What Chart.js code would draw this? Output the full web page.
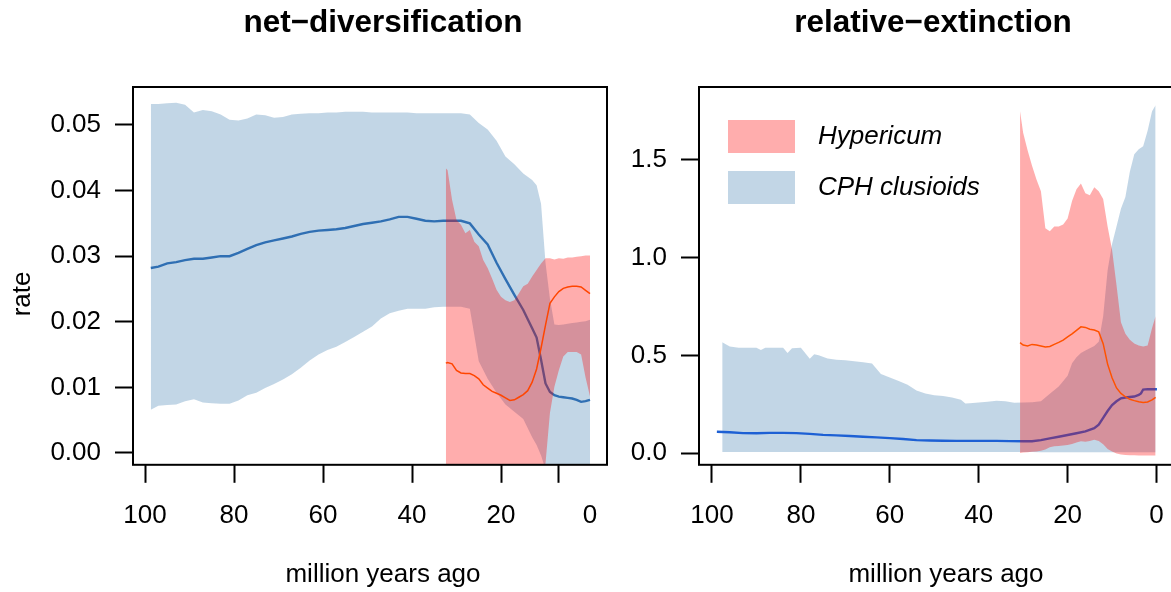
<!DOCTYPE html>
<html>
<head>
<meta charset="utf-8">
<title>Diversification rates through time</title>
<script src="https://cdn.jsdelivr.net/npm/chart.js"></script>
<style>
	html, body { margin: 0; padding: 0; background: #fff; overflow: hidden; }
	#wrap { position: relative; width: 1171px; height: 592px; overflow: hidden; background: #fff; }
	#wrap canvas { position: absolute; top: 0; }
</style>
</head>
<body>
<div id="wrap">
	<canvas id="netChart" width="766" height="592" style="left:0"></canvas>
	<canvas id="extChart" width="626" height="592" style="left:620px"></canvas>
</div>
<script>
// ---- net-diversification panel ----
const netCphTime = [98.7, 97, 95, 93, 91, 89, 87, 85, 83, 81, 79, 77, 75, 73, 71, 69, 67, 65, 63, 61,
	59, 57, 55, 53, 51, 49, 47, 45, 43, 41, 39, 37, 35, 33, 31, 29, 27, 25, 23, 21,
	19, 17, 15, 13, 12, 11, 10, 9, 8, 7, 6, 5, 4, 3, 2, 1, 0];
const netCphHigh = [0.0532, 0.0532, 0.0533, 0.0534, 0.0531, 0.0519, 0.0523, 0.0521, 0.0516, 0.0508,
	0.0507, 0.0510, 0.0516, 0.0515, 0.0511, 0.0512, 0.0516, 0.0517, 0.0518, 0.0518,
	0.0519, 0.0519, 0.0520, 0.0520, 0.0520, 0.0519, 0.0519, 0.0519, 0.0519, 0.0519,
	0.0518, 0.0518, 0.0518, 0.0518, 0.0518, 0.0518, 0.0516, 0.0503, 0.0493, 0.0476,
	0.0452, 0.0440, 0.0426, 0.0416, 0.0408, 0.0380, 0.0290, 0.0235, 0.0196, 0.0195,
	0.0196, 0.0197, 0.0198, 0.0199, 0.0200, 0.0201, 0.0203];
const netCphLow = [0.0066, 0.0072, 0.0073, 0.0074, 0.0079, 0.0082, 0.0077, 0.0076, 0.0075, 0.0075,
	0.0080, 0.0088, 0.0092, 0.0099, 0.0105, 0.0112, 0.0120, 0.0130, 0.0141, 0.0150,
	0.0157, 0.0162, 0.0169, 0.0177, 0.0185, 0.0193, 0.0205, 0.0213, 0.0217, 0.0220,
	0.0220, 0.0220, 0.0222, 0.0223, 0.0223, 0.0223, 0.0220, 0.0140, 0.0113, 0.0092,
	0.0074, 0.0063, 0.0052, 0.0024, 0.0012, -0.0004, -0.0025, -0.003, -0.003, -0.003,
	-0.003, -0.003, -0.003, -0.003, -0.003, -0.003, -0.003];
const netCphMean = [0.0282, 0.0284, 0.0289, 0.0291, 0.0294, 0.0296, 0.0296, 0.0298, 0.0300, 0.0300,
	0.0305, 0.0311, 0.0317, 0.0321, 0.0324, 0.0327, 0.0330, 0.0334, 0.0337, 0.0339,
	0.0340, 0.0341, 0.0343, 0.0346, 0.0349, 0.0351, 0.0353, 0.0356, 0.0360, 0.0360,
	0.0357, 0.0354, 0.0353, 0.0354, 0.0354, 0.0354, 0.0350, 0.0333, 0.0318, 0.0290,
	0.0265, 0.0241, 0.0218, 0.0190, 0.0176, 0.0142, 0.0106, 0.0093, 0.0088, 0.0086,
	0.0085, 0.0084, 0.0083, 0.0081, 0.0078, 0.0079, 0.0081];

const netHypTime = [32.4, 32, 31, 30, 29, 28, 27, 26, 25, 24, 23, 22, 21, 20, 19, 18, 17,
	16, 15, 14, 13, 12, 11, 10, 9, 8, 7, 6, 5, 4, 3, 2, 1, 0];
const netHypHigh = [0.0434, 0.0431, 0.0386, 0.0355, 0.0348, 0.0335, 0.0340, 0.0322, 0.0315, 0.0294,
	0.0282, 0.0266, 0.0249, 0.0238, 0.0233, 0.0230, 0.0233, 0.0243, 0.0254, 0.0258,
	0.0269, 0.0279, 0.0289, 0.0297, 0.0297, 0.0295, 0.0297, 0.0296, 0.0298, 0.0298,
	0.0299, 0.0300, 0.0301, 0.0301];
const netHypLow = [-0.003, -0.003, -0.003, -0.003, -0.003, -0.003, -0.003, -0.003, -0.003, -0.003,
	-0.003, -0.003, -0.003, -0.003, -0.003, -0.003, -0.003, -0.003, -0.003, -0.003,
	-0.003, -0.003, -0.003, -0.0016, 0.0061, 0.0101, 0.0126, 0.0147, 0.0154, 0.0154,
	0.0154, 0.0150, 0.0115, 0.0086];
const netHypMean = [0.0137, 0.0138, 0.0136, 0.0126, 0.0122, 0.0121, 0.0121, 0.0118, 0.0113, 0.0104,
	0.0099, 0.0094, 0.0091, 0.0088, 0.0084, 0.0080, 0.0081, 0.0085, 0.0089, 0.0095,
	0.0108, 0.0128, 0.0160, 0.0195, 0.0228, 0.0238, 0.0246, 0.0251, 0.0253, 0.0254,
	0.0254, 0.0253, 0.0248, 0.0243];

// ---- relative-extinction panel ----
const extCphTime = [97.7, 96, 94, 92, 90, 89, 88, 86, 84, 83, 82, 80, 78, 77, 76, 74, 72, 70, 68, 66,
	64, 62, 60, 58, 56, 54, 52, 50, 48, 46, 44, 43, 42, 40, 38, 36, 34, 32, 30, 28,
	26, 24, 22, 20, 19, 18, 17, 16, 15, 14, 13, 12, 11, 10, 9, 8, 7, 6, 5, 4, 3, 2, 1, 0.2];
const extCphHigh = [0.567, 0.545, 0.539, 0.539, 0.539, 0.527, 0.539, 0.539, 0.539, 0.512,
	0.536, 0.539, 0.482, 0.505, 0.500, 0.484, 0.477, 0.475, 0.470, 0.464,
	0.458, 0.405, 0.386, 0.368, 0.350, 0.320, 0.305, 0.296, 0.292, 0.284,
	0.272, 0.254, 0.255, 0.258, 0.262, 0.268, 0.265, 0.257, 0.258, 0.260,
	0.265, 0.303, 0.340, 0.395, 0.459, 0.490, 0.512, 0.525, 0.536, 0.548,
	0.570, 0.700, 0.935, 1.070, 1.160, 1.250, 1.310, 1.440, 1.530, 1.555,
	1.570, 1.650, 1.750, 1.780];
const extCphLow = [0.005, 0.005, 0.005, 0.005, 0.005, 0.005, 0.005, 0.005, 0.005, 0.005,
	0.005, 0.005, 0.005, 0.005, 0.005, 0.005, 0.005, 0.005, 0.005, 0.005,
	0.005, 0.005, 0.005, 0.005, 0.005, 0.005, 0.005, 0.005, 0.005, 0.005,
	0.005, 0.005, 0.005, 0.005, 0.005, 0.005, 0.005, 0.005, 0.005, 0.005,
	0.004, 0.004, 0.004, 0.004, 0.004, 0.004, 0.004, 0.004, 0.004, 0.004,
	0.004, 0.004, 0.004, 0.004, 0.004, 0.004, 0.004, 0.004, 0.004, 0.004,
	0.004, 0.004, 0.004, 0.004];
const extCphMeanTime = [98.9, 96, 93, 90, 87, 84, 81, 78, 75, 72, 69, 66, 63, 60, 57, 54, 51, 48, 45, 42,
	39, 36, 33, 30, 28, 26, 24, 22, 20, 18, 16, 14, 13, 12, 11, 10, 9, 8, 7, 6,
	5, 4, 3.5, 3, 2, 1, -0.1];
const extCphMean = [0.109, 0.106, 0.102, 0.101, 0.103, 0.103, 0.102, 0.098, 0.093, 0.090,
	0.087, 0.083, 0.080, 0.076, 0.072, 0.066, 0.064, 0.063, 0.062, 0.062,
	0.062, 0.062, 0.061, 0.060, 0.060, 0.066, 0.075, 0.083, 0.092, 0.101,
	0.111, 0.127, 0.145, 0.180, 0.215, 0.245, 0.265, 0.280, 0.284, 0.287,
	0.289, 0.297, 0.305, 0.325, 0.327, 0.326, 0.326];

const extHypTime = [30.7, 30, 29, 28, 27, 26, 25, 24, 23, 22, 21, 20, 19, 18, 17, 16,
	15, 14, 13, 12, 11, 10, 9, 8, 7, 6, 5, 4, 3, 2, 1, 0.2];
const extHypHigh = [1.75, 1.64, 1.55, 1.47, 1.40, 1.34, 1.15, 1.135, 1.16, 1.16,
	1.17, 1.20, 1.29, 1.35, 1.38, 1.33, 1.32, 1.36, 1.34, 1.30,
	1.16, 1.04, 0.86, 0.67, 0.61, 0.58, 0.56, 0.55, 0.545, 0.55,
	0.64, 0.70];
const extHypLow = [0.000, 0.002, 0.004, 0.006, 0.008, 0.012, 0.018, 0.030, 0.034, 0.036,
	0.039, 0.041, 0.046, 0.054, 0.060, 0.058, 0.062, 0.068, 0.062, 0.045,
	0.020, 0.008, -0.002, -0.008, -0.010, -0.012, -0.012, -0.013, -0.013, -0.013,
	-0.013, -0.013];
const extHypMean = [0.565, 0.553, 0.548, 0.556, 0.553, 0.548, 0.543, 0.545, 0.556, 0.566,
	0.578, 0.595, 0.610, 0.628, 0.646, 0.643, 0.634, 0.630, 0.620, 0.560,
	0.455, 0.385, 0.333, 0.305, 0.288, 0.275, 0.268, 0.262, 0.259, 0.261,
	0.272, 0.285];

// ---- axes ----
const xTickLabels = [100, 80, 60, 40, 20, 0];
const netTickMarks = [100, 80, 60, 40, 20, 7];
const extTickMarks = [100, 80, 60, 40, 20, 0];
const netYTicks = [0, 0.01, 0.02, 0.03, 0.04, 0.05];
const extYTicks = [0, 0.5, 1.0, 1.5];
const legendLabels = ['Hypericum', 'CPH clusioids'];

const HYP_BAND = 'rgba(255, 0, 0, 0.32)';
const CPH_BAND = 'rgba(70, 130, 180, 0.33)';
const NONE = 'rgba(0, 0, 0, 0)';

Chart.defaults.font.family = '"Liberation Sans", Arial, Helvetica, sans-serif';
Chart.defaults.color = '#000';

function points(times, values) {
	return times.map((t, i) => ({ x: t, y: values[i] }));
}

function band(times, high, low, color, order) {
	return [
		{ data: points(times, high), fill: '+1', backgroundColor: color, borderColor: NONE, borderWidth: 0, pointRadius: 0, order },
		{ data: points(times, low), fill: false, backgroundColor: color, borderColor: NONE, borderWidth: 0, pointRadius: 0, order },
	];
}

function meanLine(times, values, color, width, order) {
	return { data: points(times, values), fill: false, borderColor: color, borderWidth: width, pointRadius: 0, tension: 0, order };
}

// black box round the plot region
const plotFrame = {
	id: 'plotFrame',
	afterDatasetsDraw(chart) {
		const { ctx, chartArea } = chart;
		ctx.save();
		ctx.strokeStyle = '#000';
		ctx.lineWidth = 2;
		ctx.strokeRect(chartArea.left, chartArea.top, chartArea.right - chartArea.left, chartArea.bottom - chartArea.top);
		ctx.restore();
	},
};

// legend drawn inside the plot region, top left
const plotLegend = {
	id: 'plotLegend',
	afterDraw(chart, args, opts) {
		if (!opts.items) return;
		const { ctx, chartArea } = chart;
		ctx.save();
		ctx.font = 'italic 26px "Liberation Sans", Arial, sans-serif';
		ctx.textBaseline = 'middle';
		opts.items.forEach((item, i) => {
			const y = chartArea.top + 33 + i * 51;
			ctx.fillStyle = item.color;
			ctx.fillRect(chartArea.left + 29, y, 67, 33);
			ctx.fillStyle = '#000';
			ctx.fillText(item.text, chartArea.left + 119, y + 17);
		});
		ctx.restore();
	},
};

function makePanel(canvasId, p) {
	const datasets = [
		...band(p.cphTime, p.cphHigh, p.cphLow, CPH_BAND, 4),
		meanLine(p.cphMeanTime, p.cphMean, p.cphColor, 2.4, 3),
		...band(p.hypTime, p.hypHigh, p.hypLow, HYP_BAND, 2),
		meanLine(p.hypTime, p.hypMean, p.hypColor, 1.5, 1),
	];
	const allXTicks = [...new Set([...p.tickMarks, ...xTickLabels])].sort((a, b) => b - a);

	return new Chart(document.getElementById(canvasId), {
		type: 'line',
		data: { datasets },
		plugins: [plotFrame, plotLegend],
		options: {
			responsive: false,
			animation: false,
			events: [],
			layout: { padding: 0 },
			plugins: {
				legend: { display: false },
				tooltip: { enabled: false },
				title: {
					display: true,
					text: p.title,
					font: { size: 31.5, weight: 'bold' },
					padding: { top: 4, bottom: 45.2 },
					fullSize: true,
				},
				subtitle: {
					display: true,
					position: 'bottom',
					text: 'million years ago',
					font: { size: 26, weight: 'normal' },
					padding: { top: 0, bottom: 2 },
					fullSize: p.xlabFullSize,
				},
				plotLegend: { items: p.legend },
			},
			scales: {
				x: {
					type: 'linear',
					reverse: true,
					min: p.xMin,
					max: p.xMax,
					afterBuildTicks: (scale) => {
						scale.ticks = allXTicks.map((v) => ({ value: v }));
					},
					afterFit: (scale) => {
						scale.height = 94;
					},
					ticks: {
						autoSkip: false,
						maxRotation: 0,
						padding: 17,
						font: { size: 26 },
						callback: (v) => (xTickLabels.includes(v) ? String(v) : ''),
					},
					grid: {
						drawOnChartArea: false,
						tickLength: 18,
						tickWidth: 2,
						tickColor: (ctx) => (ctx.tick && p.tickMarks.includes(ctx.tick.value) ? '#000' : NONE),
					},
					border: { display: false },
				},
				y: {
					type: 'linear',
					position: 'left',
					min: p.yMin,
					max: p.yMax,
					afterBuildTicks: (scale) => {
						scale.ticks = p.yTicks.map((v) => ({ value: v }));
					},
					afterFit: (scale) => {
						scale.width = p.yAxisWidth;
					},
					ticks: {
						padding: 14,
						font: { size: 26 },
						callback: (v) => v.toFixed(p.yDigits),
					},
					grid: { drawOnChartArea: false, tickLength: 18, tickWidth: 2, tickColor: '#000' },
					border: { display: false },
					title: {
						display: !!p.yTitle,
						// trailing spaces push the word a little below the middle, as in the original
						text: p.yTitle,
						font: { size: 26 },
						padding: { top: 7, bottom: 0 },
					},
				},
				yr: {
					type: 'linear',
					position: 'right',
					afterFit: (scale) => {
						scale.width = p.rightGap;
					},
					ticks: { display: false },
					grid: { display: false },
					border: { display: false },
				},
			},
		},
	});
}

makePanel('netChart', {
	title: 'net\u2212diversification',
	cphTime: netCphTime, cphHigh: netCphHigh, cphLow: netCphLow,
	cphMeanTime: netCphTime, cphMean: netCphMean,
	hypTime: netHypTime, hypHigh: netHypHigh, hypLow: netHypLow, hypMean: netHypMean,
	cphColor: '#2f6fb3',
	hypColor: '#ff4500',
	tickMarks: netTickMarks,
	xMin: -3.82, xMax: 102.7,
	yMin: -0.0018, yMax: 0.05579,
	yTicks: netYTicks, yDigits: 2,
	yTitle: 'rate     ',
	yAxisWidth: 133,
	rightGap: 159,
	xlabFullSize: true,
	legend: null,
});

makePanel('extChart', {
	title: 'relative\u2212extinction',
	cphTime: extCphTime, cphHigh: extCphHigh, cphLow: extCphLow,
	cphMeanTime: extCphMeanTime, cphMean: extCphMean,
	hypTime: extHypTime, hypHigh: extHypHigh, hypLow: extHypLow, hypMean: extHypMean,
	cphColor: '#1d60d4',
	hypColor: '#ff5200',
	tickMarks: extTickMarks,
	xMin: -8.21, xMax: 102.92,
	yMin: -0.0604, yMax: 1.8737,
	yTicks: extYTicks, yDigits: 1,
	yTitle: '',
	yAxisWidth: 79,
	rightGap: 53,
	xlabFullSize: false,
	legend: [
		{ text: legendLabels[0], color: HYP_BAND },
		{ text: legendLabels[1], color: CPH_BAND },
	],
});
</script>
</body>
</html>
